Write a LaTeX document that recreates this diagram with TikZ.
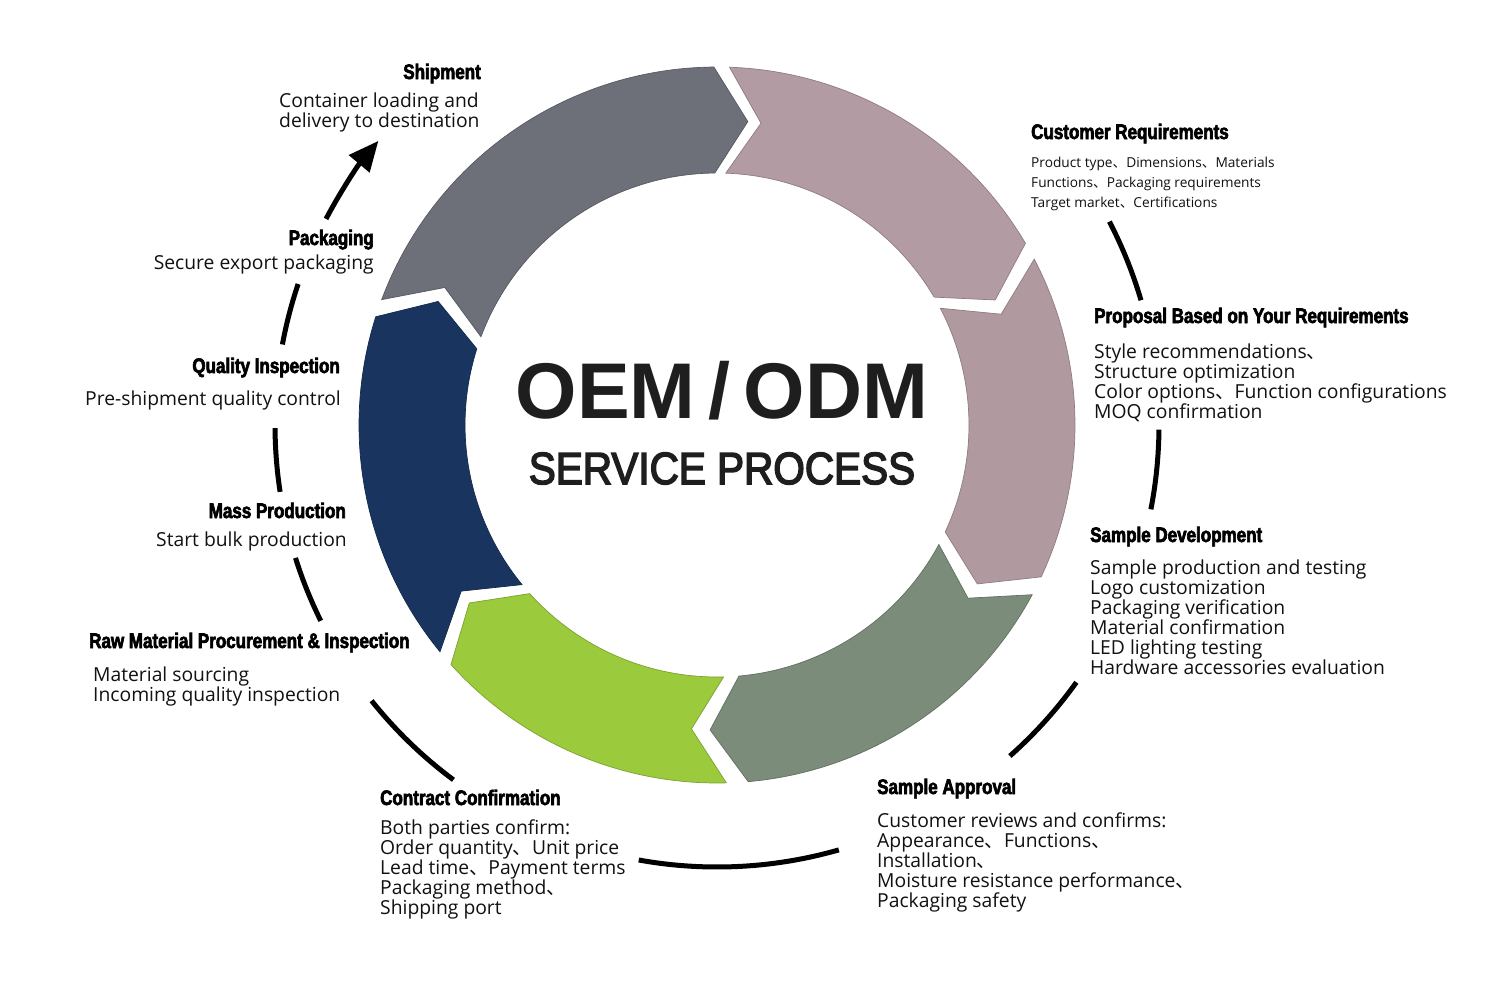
\documentclass[tikz,border=0pt]{standalone}
\usepackage{fontspec}
\setmainfont{Open Sans}
\newfontfamily\cjk{Noto Sans CJK SC}
\newfontfamily\headfont[FakeStretch=0.81,FakeBold=3]{Liberation Sans}
\newfontfamily\titlefont{Liberation Sans}
\newfontfamily\subfont[FakeBold=3.5]{Liberation Sans}
\usetikzlibrary{arrows.meta}
\newcommand{\dn}{{\cjk 、}}
\newcommand{\fl}{\rule{0pt}{15pt}}
\newcommand{\fls}{\rule{0pt}{11pt}}
\definecolor{cgray}{HTML}{6D6F79}
\definecolor{cpink}{HTML}{B29BA2}
\definecolor{cpinkb}{HTML}{B09AA0}
\definecolor{csage}{HTML}{7B8C7B}
\definecolor{cgreen}{HTML}{9BCA3C}
\definecolor{cnavy}{HTML}{19355F}
\definecolor{ctext}{HTML}{111111}
\definecolor{ctitle}{HTML}{1E1E1E}
\tikzset{
  hd/.style={font=\headfont\bfseries\fontsize{21}{24}\selectfont, inner sep=0pt, text=black},
  bd/.style={font=\fontsize{19.3}{20}\selectfont, inner sep=0pt, text=ctext},
  sm/.style={font=\fontsize{13.7}{20}\selectfont, inner sep=0pt, text=ctext, align=left},
  lnk/.style={line width=5pt, black},
  segstyle/.style={line width=0.7pt}
}
\begin{document}
\begin{tikzpicture}[x=1pt,y=-1pt]
\useasboundingbox (0,0) rectangle (1500,1004);
\fill[white] (0,0) rectangle (1500,1004);
% ring
\begin{scope}[shift={(717,425)}]
\foreach \c/\t/\h in {cgray/200.5/269.5, cpink/272/329.5, cpinkb/332.4/385.1, csage/28.3/85, cgreen/88.5/138, cnavy/140.7/197.6}{
  \filldraw[segstyle, fill=\c, draw=\c!80!black] (\t:358) arc[start angle=\t, end angle=\h, radius=358]
    -- ({\h+6.3}:305) -- (\h:252) arc[start angle=\h, end angle=\t, radius=252]
    -- ({\t+6.3}:305) -- cycle;
}
% connectors on outer circle
\coordinate (a1) at (-27.4:442);
\coordinate (a2) at (0.6:442);
\coordinate (a3) at (35.6:442);
\coordinate (a4) at (74:442);
\coordinate (a5) at (126.6:442);
\coordinate (a6) at (153.7:442);
\coordinate (a7) at (171.3:442);
\coordinate (a8) at (190.5:442);
\coordinate (a9) at (207.8:442);
\draw[lnk] (a1) arc[start angle=-27.4, end angle=-16.4, radius=442];
\draw[lnk] (a2) arc[start angle=0.6, end angle=11, radius=442];
\draw[lnk] (a3) arc[start angle=35.6, end angle=48.5, radius=442];
\draw[lnk] (a4) arc[start angle=74, end angle=100.2, radius=442];
\draw[lnk] (a5) arc[start angle=126.6, end angle=141.4, radius=442];
\draw[lnk] (a6) arc[start angle=153.7, end angle=162.5, radius=442];
\draw[lnk] (a7) arc[start angle=171.3, end angle=179.6, radius=442];
\draw[lnk] (a8) arc[start angle=190.5, end angle=198.6, radius=442];
\draw[lnk, -{Triangle[length=30pt,width=26pt]}] (a9) arc[start angle=207.8, end angle=220, radius=442];
\end{scope}
% title
\node[font=\titlefont\bfseries\fontsize{79}{82}\selectfont, text=ctitle, inner sep=0pt, anchor=base] (t1) at (722,418) {OEM\,/\,ODM};
\node[font=\subfont\fontsize{45}{48}\selectfont, text=ctitle, inner sep=0pt, anchor=base] (t2) at (722,484) {\scalebox{0.9}[1]{SERVICE PROCESS}};
% Shipment
\node[hd, anchor=base east] (h1) at (481,79) {Shipment};
\node[bd, align=left, anchor=north west] (b1) at (279,92) {\fl Container loading and\\delivery to destination};
% Customer Requirements
\node[hd, anchor=base west] (h2) at (1031,139) {Customer Requirements};
\node[sm, anchor=north west] (b2) at (1031,156) {\fls Product type\dn Dimensions\dn Materials\\Functions\dn Packaging requirements\\Target market\dn Certifications};
% Proposal
\node[hd, anchor=base west] (h3) at (1094,323) {Proposal Based on Your Requirements};
\node[bd, align=left, anchor=north west] (b3) at (1094,343) {\fl Style recommendations\dn\\Structure optimization\\Color options\dn Function configurations\\MOQ confirmation};
% Sample Development
\node[hd, anchor=base west] (h4) at (1090,542) {Sample Development};
\node[bd, align=left, anchor=north west] (b4) at (1090,559) {\fl Sample production and testing\\Logo customization\\Packaging verification\\Material confirmation\\LED lighting testing\\Hardware accessories evaluation};
% Sample Approval
\node[hd, anchor=base west] (h5) at (877,794) {Sample Approval};
\node[bd, align=left, anchor=north west] (b5) at (877,812) {\fl Customer reviews and confirms:\\Appearance\dn Functions\dn\\Installation\dn\\Moisture resistance performance\dn\\Packaging safety};
% Contract Confirmation
\node[hd, anchor=base west] (h6) at (380,805) {Contract Confirmation};
\node[bd, align=left, anchor=north west] (b6) at (380,819) {\fl Both parties confirm:\\Order quantity\dn Unit price\\Lead time\dn Payment terms\\Packaging method\dn\\Shipping port};
% Raw material
\node[hd, anchor=base west] (h7) at (89,648) {Raw Material Procurement \& Inspection};
\node[bd, align=left, anchor=north west] (b7) at (93,666) {\fl Material sourcing\\Incoming quality inspection};
% Mass production
\node[hd, anchor=base east] (h8) at (346,518) {Mass Production};
\node[bd, anchor=base east] (b8) at (347,546) {Start bulk production};
% Quality inspection
\node[hd, anchor=base east] (h9) at (340,373) {Quality Inspection};
\node[bd, anchor=base east] (b9) at (341,405) {Pre-shipment quality control};
% Packaging
\node[hd, anchor=base east] (h10) at (374,245) {Packaging};
\node[bd, anchor=base east] (b10) at (374,269) {Secure export packaging};
\end{tikzpicture}
\end{document}
